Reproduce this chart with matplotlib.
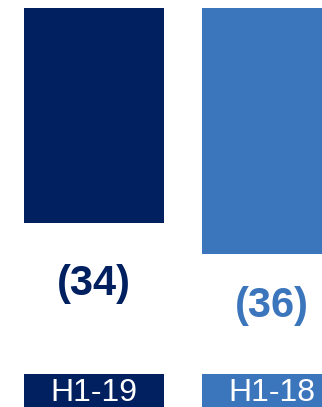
import matplotlib
matplotlib.use("Agg")
import matplotlib.pyplot as plt

categories = ["H1-19", "H1-18"]
values = [-34, -36]
labels = ["(34)", "(36)"]
colors = ["#002060", "#3B75BB"]

plt.rcParams['font.family'] = ['Liberation Sans', 'DejaVu Sans']

W, H = 322, 407
fig = plt.figure(figsize=(W / 100, H / 100), dpi=100)
top_px = 8
ax = fig.add_axes([0, 0, 1, (H - top_px) / H])
ax.set_axis_off()

x = list(range(len(categories)))
ax.set_xlim(-0.528, 1.281)
ax.set_ylim(-45.87, -20.13)

width = 0.787
ax.bar(x, values, width=width, color=colors, bottom=0)

# value labels below bars (offsets in points)
label_offsets = [-61 * 0.72, -52 * 0.72]
for xi, v, lab, c, off in zip(x, values, labels, colors, label_offsets):
    ax.annotate(lab, xy=(xi, v), xytext=(0, off), textcoords="offset points",
                ha="center", va="center", fontsize=30, fontweight="bold", color=c)

# category labels in colored boxes
box_top, box_bot = -43.74, -46.4
for xi, cat, c in zip(x, categories, colors):
    ax.bar(xi, box_bot - box_top, bottom=box_top, width=width, color=c)
    ax.text(xi, -44.97, cat, ha="center", va="center", fontsize=23, color="white")

fig.savefig("out.png", dpi=100)
